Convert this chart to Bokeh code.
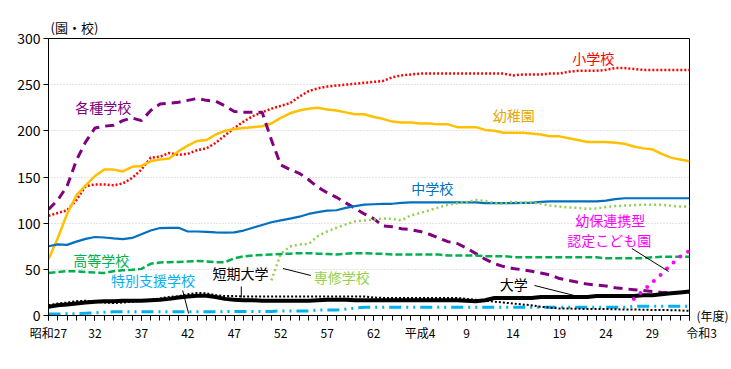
import math
from bokeh.plotting import figure
from bokeh.models import ColumnDataSource, Range1d, FixedTicker, Label, LinearAxis
from bokeh.embed import file_html
from bokeh.resources import INLINE

NaN = float("nan")

years = list(range(1952, 2022))

elementary = [108, 111, 114, 125, 140, 142, 142, 141, 143, 149,
              158, 171, 172, 176, 174, 175, 179, 181, 187, 195,
              203, 210, 216, 220, 224, 227, 230, 237, 243, 246,
              248, 249, 250, 251, 252, 253, 254, 258, 260, 261,
              262, 262, 262, 262, 262, 262, 262, 262, 262, 262,
              260, 261, 261, 261, 262, 262, 264, 265, 265, 265,
              266, 268, 268, 267, 266, 266, 266, 266, 266, 266]

kindergarten = [61, 84, 110, 130, 141, 151, 158, 158, 156, 161,
                162, 167, 169, 170, 178, 184, 189, 190, 196, 200,
                202, 203, 204, 205, 208, 214, 219, 222, 224, 225,
                223, 222, 220, 218, 218, 215, 213, 210, 209, 209,
                208, 208, 207, 207, 204, 204, 204, 201, 200, 198,
                198, 198, 197, 196, 194, 194, 192, 190, 188, 188,
                188, 187, 186, 183, 181, 180, 175, 171, 169, 167]

misc_schools = [115, 125, 140, 168, 188, 203, 205, 206, 211, 214,
                211, 222, 229, 230, 231, 233, 235, 233, 232, 227,
                221, 220, 220, 220, 190, 163, 158, 154, 147, 139,
                133, 128, 122, 116, 110, 105, 97, 96, 94, 93,
                91, 88, 84, 80, 78, 73, 67, 61, 56, 53,
                51, 49.5, 48, 46, 44, 40, 38, 36, 34, 33,
                32, 30, 29, 28, 27, 26, 25, 25, 25, 25]

junior_high = [75, 77, 76.5, 80, 83, 85, 84.5, 83.5, 82.7, 84,
               88, 92, 94.7, 95, 95, 91, 91, 90.5, 90, 89.7,
               90, 92, 95, 98, 101, 103, 105, 107, 110, 112,
               113.5, 114, 116.5, 118.5, 120, 120.5, 121, 121, 122, 122.5,
               122.5, 122.5, 122.5, 122.5, 122.5, 122.5, 122.5, 121.7, 121.7, 121.7,
               121.7, 122, 122, 123, 123.5, 123.5, 123.5, 123.5, 123.5, 123.5,
               124.5, 126, 127, 127, 127, 127, 127, 127, 127, 127]

special_training = [NaN] * 24 + [
    38, 67, 74.7, 77, 77.5, 86, 91, 95, 98.7, 102,
    103, 104, 105, 104.6, 103, 108.5, 111, 114, 117, 120,
    121.5, 123, 125, 124, 122, 121, 123.5, 121.5, 122.5, 121,
    119, 118, 117, 116.5, 115.5, 116, 117.5, 118.5, 119, 119.5,
    120, 120, 120, 119, 118, 118]

high_school = [46, 47, 48, 48, 47, 46.5, 46, 48, 49, 49.5,
               50.5, 56, 57.5, 57.8, 58, 58.5, 59, 58.5, 57.8, 57.8,
               62, 64, 65, 65.5, 66, 66.5, 67, 67.5, 67.5, 67,
               66.5, 66, 67, 67.5, 67.5, 67, 66.8, 66, 66, 66,
               66, 66, 66, 65, 65, 65, 65, 64.3, 64.3, 64.3,
               63.2, 63.2, 63.2, 63.2, 63.2, 63, 63, 63, 63, 63,
               62, 62, 62, 62, 62, 63, 63.5, 63.5, 63.5, 63.5]

special_support = [1.5, 1.5, 2, 2, 2.5, 3, 3.5, 4, 4, 4,
                   4, 4, 4, 4, 4, 4, 4, 4, 4, 4.3,
                   4.3, 4.3, 4.3, 4.3, 4.3, 5, 5, 5, 5, 6,
                   6, 6, 7, 8, 9, 9, 9, 9, 9, 9,
                   9, 9, 9, 9, 9, 9, 9, 9, 9, 9,
                   9, 9, 9, 9, 9, 9, 9, 9, 9, 9,
                   9, 9, 9, 10, 10, 10, 10, 10, 10, 10]

junior_college = [11, 13, 14, 15.5, 16, 15, 14, 13.5, 14, 15,
                  16, 17, 18.5, 20, 21, 23, 24.5, 24, 22, 21,
                  21, 20.5, 20.5, 20.5, 20.5, 20.5, 20.5, 20.5, 20.5, 20.5,
                  20.5, 20.5, 20.5, 20.5, 20.5, 19.5, 19, 19, 19, 19,
                  19, 19, 19, 19, 19, 18, 17, 16, 15, 14,
                  13, 12, 11, 9.5, 8.5, 7.5, 7.5, 7.3, 7, 7,
                  7, 6.8, 6.5, 6.5, 6.3, 6, 6, 5.8, 5.5, 5]

university = [9.5, 11, 12, 13, 14, 15, 15.5, 15.5, 16, 16,
              16, 16.5, 17, 18, 19.5, 20.5, 21.5, 21.5, 20, 18,
              17, 16.5, 16.5, 16, 16, 16, 16, 16, 16, 16.5,
              17, 17, 17, 16.5, 16.5, 16.5, 16.5, 16.5, 16.5, 16.5,
              16.5, 16.5, 16.5, 16.5, 16.5, 16, 15.5, 16.5, 19, 19,
              19, 19, 19, 20, 20, 20, 20, 20, 20, 21,
              21, 21, 21, 21, 22, 22, 23, 24, 25, 26]

kodomoen = [NaN] * 63 + [18, 27, 36, 45, 55, 64, 70]

major_ticks = [1952, 1957, 1962, 1967, 1972, 1977, 1982, 1987, 1992,
               1997, 2002, 2007, 2012, 2017, 2021]
major_labels = ["昭和27", "32", "37", "42", "47", "52", "57", "62", "平成4",
                "9", "14", "19", "24", "29", "\u3000\u3000令和3"]
y_ticks = [0, 50, 100, 150, 200, 250, 300]

FONT = "Noto Sans CJK JP"

src = ColumnDataSource(dict(
    year=years, elementary=elementary, kindergarten=kindergarten,
    misc=misc_schools, junior=junior_high, senshu=special_training,
    high=high_school, support=special_support, jc=junior_college,
    univ=university, kodomo=kodomoen))

# page has no margin with bokeh's template: canvas starts at (0,0)
p = figure(width=731, height=360, output_backend="svg", toolbar_location=None,
           x_range=Range1d(1952, 2021), y_range=Range1d(0, 300),
           min_border_left=48, min_border_right=38, min_border_top=38,
           min_border_bottom=45)
p.outline_line_color = "black"
p.outline_line_width = 1
p.background_fill_color = "white"
p.border_fill_color = "white"

# unit caption as title
p.title.text = "(園・校)"
p.title.align = "left"
p.title.text_font = FONT
p.title.text_font_size = "13px"
p.title.text_font_style = "normal"
p.title.text_color = "black"
p.title.offset = 2
p.title.standoff = 4

# axes
p.xaxis.ticker = FixedTicker(ticks=major_ticks, minor_ticks=years)
p.xaxis.major_label_overrides = {t: l for t, l in zip(major_ticks, major_labels)}
p.yaxis.ticker = FixedTicker(ticks=y_ticks, minor_ticks=[])
for ax in (p.xaxis[0], p.yaxis[0]):
    ax.axis_line_color = "black"
    ax.major_tick_line_color = "black"
    ax.minor_tick_line_color = "black"
    ax.major_tick_in = 0
    ax.major_tick_out = 5
    ax.minor_tick_in = 0
    ax.minor_tick_out = 5
    ax.major_label_text_font = FONT
    ax.major_label_text_color = "black"
    ax.major_label_standoff = 3
p.xaxis.major_label_text_font_size = "12px"
p.yaxis.major_label_text_font_size = "14px"

# "(年度)" as a right-hand axis label at the baseline
yr_axis = LinearAxis(ticker=FixedTicker(ticks=[0], minor_ticks=[]),
                     major_label_overrides={0: "(年度)"},
                     axis_line_color=None, major_tick_line_color=None,
                     minor_tick_line_color=None, major_label_standoff=1,
                     major_label_text_font=FONT, major_label_text_font_size="12px",
                     major_label_text_color="black")
p.add_layout(yr_axis, "right")

p.xgrid.visible = False
p.ygrid.ticker = FixedTicker(ticks=[50, 100, 150, 200, 250])
p.ygrid.grid_line_color = "#d4c4d4"
p.ygrid.grid_line_dash = "1 2"
p.ygrid.grid_line_width = 1

# series
p.line("year", "elementary", source=src, line_color="#ff0000", line_width=2.5, line_dash="2 2")
p.line("year", "kindergarten", source=src, line_color="#ffc000", line_width=2.5)
p.line("year", "misc", source=src, line_color="#800080", line_width=3, line_dash="9 6")
p.line("year", "junior", source=src, line_color="#0070c0", line_width=2.2)
p.line("year", "senshu", source=src, line_color="#92d050", line_width=2.5, line_dash="2 3")
p.line("year", "high", source=src, line_color="#00b050", line_width=2.5, line_dash="7 3")
p.line("year", "support", source=src, line_color="#00b0f0", line_width=3, line_dash="12 5 2 5 2 5")
p.line("year", "jc", source=src, line_color="black", line_width=2, line_dash="2 2")
p.line("year", "univ", source=src, line_color="black", line_width=4)
p.line("year", "kodomo", source=src, line_color="#ff00ff", line_width=4, line_dash="0 9", line_cap="round")

# pixel helpers for annotations (page px -> data)
def fx(x):
    return 1952 + (x - 48) / 9.348

def fy(y):
    return (315 - y) / 0.92333

labels = [
    ("各種学校", 75, 107, "#800080"),
    ("小学校", 575, 58, "#ff0000"),
    ("幼稚園", 495, 115, "#e6a700"),
    ("中学校", 413, 188, "#0070c0"),
    ("専修学校", 315, 277, "#92d050"),
    ("短期大学", 213, 273, "black"),
    ("高等学校", 73, 260, "#00b050"),
    ("特別支援学校", 111, 280, "#00b0f0"),
    ("大学", 502, 284, "black"),
    ("幼保連携型", 578, 220, "#ff00ff"),
    ("認定こども園", 570, 240, "#ff00ff"),
]
for t, x, y, c in labels:
    p.add_layout(Label(x=fx(x), y=fy(y), text=t, text_color=c, text_font=FONT,
                       text_font_size="14px", text_baseline="middle", text_align="left"))

leaders = [((284, 268), (312, 275)), ((242, 286), (242, 297)),
           ((183, 290), (189, 313)), ((537, 285), (585, 297)),
           ((635, 248), (672, 271))]
p.segment(x0=[fx(a[0]) for a, b in leaders], y0=[fy(a[1]) for a, b in leaders],
          x1=[fx(b[0]) for a, b in leaders], y1=[fy(b[1]) for a, b in leaders],
          line_color="black", line_width=1)

open("out.html", "w").write(file_html(p, INLINE))
